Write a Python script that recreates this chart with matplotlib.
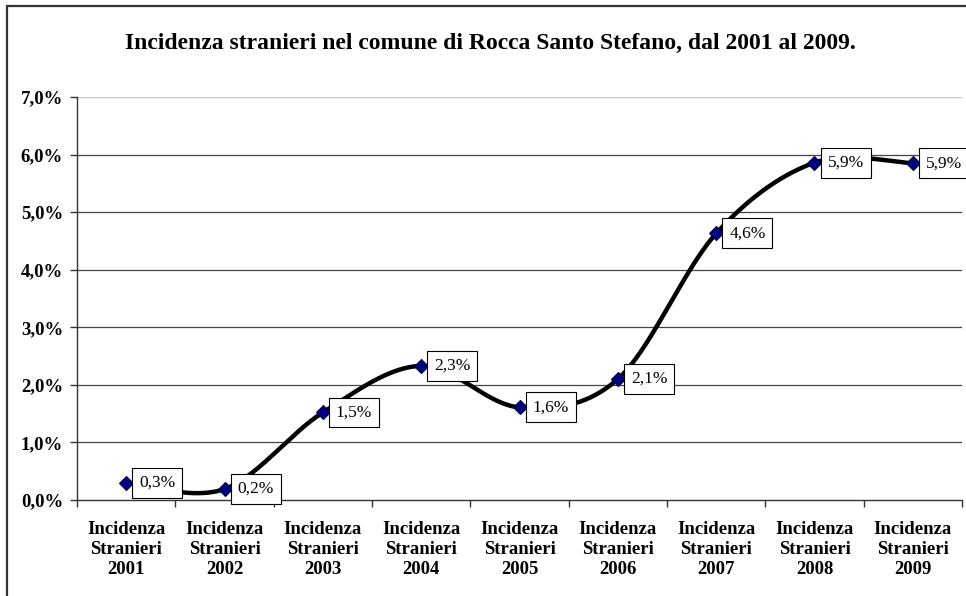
import numpy as np
import matplotlib
matplotlib.use("Agg")
import matplotlib.pyplot as plt
from matplotlib.patches import Rectangle
from matplotlib.ticker import FuncFormatter

years = ["2001", "2002", "2003", "2004", "2005", "2006", "2007", "2008", "2009"]
categories = ["Incidenza\nStranieri\n" + y for y in years]
values = [0.30, 0.19, 1.52, 2.33, 1.61, 2.10, 4.63, 5.86, 5.85]
labels = ["0,3%", "0,2%", "1,5%", "2,3%", "1,6%", "2,1%", "4,6%", "5,9%", "5,9%"]
title = "Incidenza stranieri nel comune di Rocca Santo Stefano, dal 2001 al 2009."

serif = ["Liberation Serif", "DejaVu Serif"]
plt.rcParams["font.family"] = serif

W, H = 966, 596
fig = plt.figure(figsize=(W / 100, H / 100), dpi=100)
fig.patch.set_facecolor("white")

# outer chart border (cropped on right/bottom)
fig.add_artist(Rectangle((7 / W, -0.05), 1.2, 1 - 6 / H + 0.05, transform=fig.transFigure,
                         fill=False, ec="#333333", lw=1.6))

left, right, top, bottom = 77, 962, 97, 500
ax = fig.add_axes([left / W, 1 - bottom / H, (right - left) / W, (bottom - top) / H])

n = len(values)
x = np.arange(n)
ax.set_xlim(-0.5, n - 0.5)
ax.set_ylim(0, 7)

# gridlines
for v in range(1, 7):
    ax.axhline(v, color="#444444", lw=0.9, zorder=1)
ax.axhline(7, color="#c8c8c8", lw=1.0, zorder=1)

# smoothed line (Catmull-Rom / Bezier in pixel-like space)
sx = (right - left) / n
sy = (bottom - top) / 7.0
P = np.column_stack([x * sx, np.array(values) * sy])
pts = []
for i in range(n - 1):
    p0 = P[i - 1] if i > 0 else P[i]
    p1 = P[i]
    p2 = P[i + 1]
    p3 = P[i + 2] if i + 2 < n else P[i + 1]
    c1 = p1 + (p2 - p0) / 6.0
    c2 = p2 - (p3 - p1) / 6.0
    t = np.linspace(0, 1, 40)[:, None]
    seg = ((1 - t) ** 3) * p1 + 3 * ((1 - t) ** 2) * t * c1 + 3 * (1 - t) * t ** 2 * c2 + t ** 3 * p2
    pts.append(seg)
curve = np.vstack(pts)
ax.plot(curve[:, 0] / sx, curve[:, 1] / sy, color="black", lw=3.2, zorder=3, solid_capstyle="round")
ax.plot(x, values, linestyle="none", marker="D", markersize=7.5, color="#000080",
        markeredgecolor="#000040", markeredgewidth=0.8, zorder=4)

for xi, v, lab in zip(x, values, labels):
    ax.annotate(lab, (xi, v), xytext=(13, 0), textcoords="offset pixels",
                ha="left", va="center", fontsize=12.5, family=serif, zorder=5,
                bbox=dict(boxstyle="square,pad=0.4", fc="white", ec="black", lw=0.8))

ax.set_xticks(np.arange(-0.5, n, 1.0), minor=False)
ax.set_xticklabels([])
ax.set_xticks(x, minor=True)
ax.set_xticklabels(categories, minor=True, fontsize=13.5, fontweight="bold",
                   linespacing=1.25, family=serif)
ax.tick_params(axis="x", which="major", length=5, width=1, color="#333333", direction="out")
ax.tick_params(axis="x", which="minor", length=0, pad=15)

ax.set_yticks(range(0, 8))
ax.yaxis.set_major_formatter(FuncFormatter(lambda v, p: f"{v:.1f}%".replace(".", ",")))
ax.tick_params(axis="y", length=5, width=1, color="#333333", direction="out", pad=5,
               labelsize=13.5)
for lab in ax.get_yticklabels():
    lab.set_fontweight("bold")

for s in ["top", "right"]:
    ax.spines[s].set_visible(False)
ax.spines["left"].set_color("#333333")
ax.spines["bottom"].set_color("#333333")
ax.spines["left"].set_linewidth(1.0)
ax.spines["bottom"].set_linewidth(1.0)

fig.text(490 / W, 1 - 43 / H, title, ha="center", va="center", fontsize=17,
         fontweight="bold", family=serif)

fig.savefig("out.png", dpi=100, facecolor="white")
